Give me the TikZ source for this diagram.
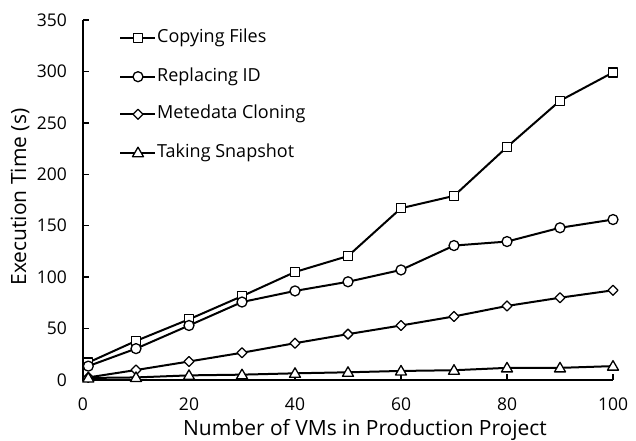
\documentclass[tikz,border=0pt]{standalone}
\usepackage{fontspec}
\setmainfont{Open Sans}
\usetikzlibrary{plotmarks}

% open marker shapes, white inside
\pgfdeclareplotmark{sqm}{\pgfpathrectangle{\pgfqpoint{-4.5pt}{-4.5pt}}{\pgfqpoint{9pt}{9pt}}\pgfusepathqfillstroke}
\pgfdeclareplotmark{cim}{\pgfpathcircle{\pgfpointorigin}{5pt}\pgfusepathqfillstroke}
\pgfdeclareplotmark{dim}{\pgfpathmoveto{\pgfqpoint{0pt}{5pt}}\pgfpathlineto{\pgfqpoint{5pt}{0pt}}\pgfpathlineto{\pgfqpoint{0pt}{-5pt}}\pgfpathlineto{\pgfqpoint{-5pt}{0pt}}\pgfpathclose\pgfusepathqfillstroke}
\pgfdeclareplotmark{trm}{\pgfpathmoveto{\pgfqpoint{0pt}{5.5pt}}\pgfpathlineto{\pgfqpoint{5.5pt}{-4pt}}\pgfpathlineto{\pgfqpoint{-5.5pt}{-4pt}}\pgfpathclose\pgfusepathqfillstroke}

\tikzset{
  series/.style={line width=2pt, black, line join=round,
    mark options={solid, fill=white, line width=1.3pt}},
  axisline/.style={line width=1.3pt, black},
  ticklabel/.style={font=\fontsize{17.5}{20}\selectfont, inner sep=0pt},
  titlelabel/.style={font=\fontsize{21}{24}\selectfont, inner sep=0pt},
  legtext/.style={font=\fontsize{18}{21}\selectfont, inner sep=0pt, anchor=west},
}

\begin{document}
\begin{tikzpicture}[x=1pt,y=1pt]
  \fill[white] (0,0) rectangle (636,440);
  \useasboundingbox (0,0) rectangle (636,440);

  % plot area: x 0..100 over 530pt, y 0..350 over 360pt
  \begin{scope}[shift={(83,60)}, x=5.3pt, y=1.0286pt]
    % axes
    \draw[axisline] (0,350) -- (0,0) -- (100,0);
    \foreach \v in {0,50,...,350} {
      \draw[axisline] (0,\v) -- ++(6pt,0);
      \node[ticklabel, anchor=east] (yl\v) at ([xshift=-16pt]0,\v) {\v};
    }
    \foreach \v in {0,20,...,100} {
      \draw[axisline] (\v,0) -- ++(0,6pt);
      \node[ticklabel, anchor=base] (xl\v) at ([yshift=-30pt]\v,0) {\v};
    }

    % Copying Files
    \draw[series] plot[mark=sqm] coordinates {(1,17) (10,38) (20,59) (30,81.5) (40,105) (50,120.5) (60,167) (70,179) (80,226.5) (90,271.5) (100,299)};
    % Replacing ID
    \draw[series] plot[mark=cim] coordinates {(1,13.5) (10,30.5) (20,53) (30,75.8) (40,86.6) (50,95.5) (60,107) (70,130.7) (80,134.6) (90,148) (100,156)};
    % Metedata Cloning
    \draw[series] plot[mark=dim] coordinates {(1,2.5) (10,9.7) (20,18) (30,26.5) (40,35.8) (50,44.6) (60,53) (70,61.8) (80,72) (90,80) (100,87.2)};
    % Taking Snapshot
    \draw[series] plot[mark=trm] coordinates {(1,2) (10,2.5) (20,4.5) (30,5.2) (40,6.5) (50,7.5) (60,8.8) (70,9.5) (80,11.8) (90,11.8) (100,13.5)};
  \end{scope}

  % axis titles
  \node[titlelabel, rotate=90] (ytitle) at (20,243) {Execution Time (s)};
  \node[titlelabel, anchor=base] (xtitle) at (365,5) {Number of VMs in Production Project};

  % legend
  \foreach \y/\m/\t [count=\i] in {401.7/sqm/Copying Files, 363.3/cim/Replacing ID, 325.7/dim/Metedata Cloning, 287.3/trm/Taking Snapshot} {
    \draw[series] plot[mark=\m, mark indices={2}] coordinates {(120,\y) (138,\y) (155,\y)};
    \node[legtext] (leg\i) at (157,\y) {\t};
  }
\end{tikzpicture}
\end{document}
